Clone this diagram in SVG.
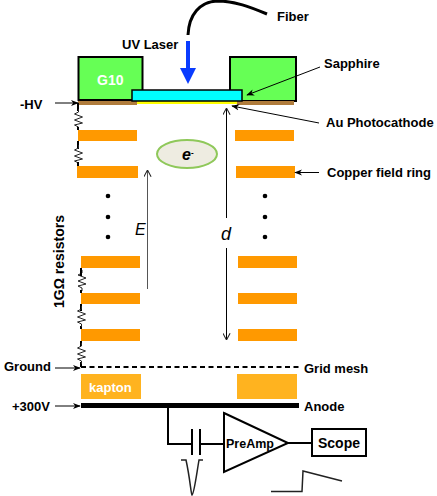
<svg xmlns="http://www.w3.org/2000/svg" width="437" height="496" viewBox="0 0 437 496">
<style>
text{font-family:"Liberation Sans",Arial,sans-serif;font-weight:bold;font-size:13px;fill:#000}
.ring{fill:#ff9900}
.g10{fill:#66ff55;stroke:#000;stroke-width:2}
.kap{fill:#ffb31f}
.res{fill:none;stroke:#222;stroke-width:1}
.wire{fill:none;stroke:#000;stroke-width:2}
.thin{fill:none;stroke:#000;stroke-width:1}
.dot{fill:#000}
</style>
<defs>
<marker id="ah" viewBox="0 0 10 10" refX="9" refY="5" markerWidth="8" markerHeight="8" markerUnits="userSpaceOnUse" orient="auto"><path d="M0 1L10 5L0 9L3 5Z" fill="#000"/></marker>
<marker id="open" viewBox="0 0 10 10" refX="9.500" refY="5" markerWidth="8" markerHeight="8" markerUnits="userSpaceOnUse" orient="auto"><path d="M1 0.500L9.500 5L1 9.500" fill="none" stroke="#222" stroke-width="1.300"/></marker>
<path id="zig" d="M0 0L0 3L-4 5L4 8L-4 11L4 14L-4 16L0 18L0 21" class="res"/>
</defs>
<g id="g10-left"><rect class="g10" x="78.500" y="57" width="64" height="43"/><text x="97" y="85" style="font-size:14px;fill:#fff">G10</text></g>
<g id="g10-right"><rect class="g10" x="230" y="57" width="66" height="44"/></g>
<g id="cathode">
<rect x="78" y="101" width="59" height="4" fill="#b07c3c"/>
<rect x="237" y="101" width="57" height="4" fill="#b07c3c"/>
<rect x="137" y="101" width="100" height="3" fill="#ffff00"/>
</g>
<g id="sapphire"><rect x="132" y="90" width="110" height="11" fill="#00ffff" stroke="#000" stroke-width="1.500"/></g>
<g id="rings">
<rect class="ring" x="78" y="130" width="59" height="11"/>
<rect class="ring" x="77" y="166" width="61" height="12"/>
<rect class="ring" x="235" y="130" width="59" height="11"/>
<rect class="ring" x="236" y="166" width="59" height="12"/>
<rect class="ring" x="81" y="256" width="59" height="12"/>
<rect class="ring" x="81" y="293" width="59" height="11"/>
<rect class="ring" x="81" y="329" width="59" height="12"/>
<rect class="ring" x="238" y="256" width="59" height="12"/>
<rect class="ring" x="238" y="293" width="59" height="11"/>
<rect class="ring" x="238" y="329" width="59" height="12"/>
</g>
<g id="dots">
<circle class="dot" cx="108" cy="196" r="2.300"/><circle class="dot" cx="108" cy="217" r="2.300"/><circle class="dot" cx="108" cy="237" r="2.300"/>
<circle class="dot" cx="265" cy="196" r="2.300"/><circle class="dot" cx="265" cy="217" r="2.300"/><circle class="dot" cx="265" cy="237" r="2.300"/>
</g>
<g id="electron"><ellipse cx="187" cy="154" rx="30" ry="14" fill="#eeece1" stroke="#8fc85a" stroke-width="2"/><text x="182" y="160" style="font-size:16px;font-style:italic">e<tspan dy="-5" style="font-size:8px">-</tspan></text></g>
<g id="kapton-left"><rect class="kap" x="81" y="374" width="60" height="25"/><text x="89" y="392" style="font-size:13px;fill:#fff">kapton</text></g>
<g id="kapton-right"><rect class="kap" x="237" y="374" width="60" height="25"/></g>
<g id="anode"><rect x="81" y="403" width="218" height="5" fill="#000"/></g>
<g id="preamp"><path d="M224 413L288 443L224 472Z" fill="#fff" stroke="#000" stroke-width="2"/><text x="226" y="448" style="font-size:12.500px">PreAmp</text></g>
<g id="scope"><rect x="312" y="429" width="54" height="27" fill="#fff" stroke="#000" stroke-width="2"/><text x="318" y="448" style="font-size:14px">Scope</text></g>
<g id="connectors">
<path d="M188 35C189 14 200 2 217 1C235 1 250 7 267 14" fill="none" stroke="#000" stroke-width="3"/>
<rect x="186" y="41" width="4" height="29" fill="#0a3cff"/>
<path d="M180 68H196L188 84Z" fill="#0a3cff"/>
<path d="M78 103V111" class="wire"/><use href="#zig" x="78.500" y="109"/><path d="M78 127V130M78 141V149" class="wire"/><use href="#zig" x="78.500" y="145"/><path d="M78 162V166" class="wire"/>
<use href="#zig" transform="translate(82 270)"/><path d="M81 268V276M81 290V293M81 304V311M81 326V329M81 341V346M81 362V367" class="wire"/>
<use href="#zig" x="81.500" y="306"/><use href="#zig" x="81.500" y="343"/>
<path d="M81 367H299" fill="none" stroke="#000" stroke-width="2" stroke-dasharray="5 3.500"/>
<path d="M147.500 289V170" fill="none" stroke="#555" stroke-width="1" marker-end="url(#open)"/>
<path d="M226.500 218V108" class="thin" marker-end="url(#open)"/>
<path d="M226.500 248V340" class="thin" marker-end="url(#open)"/>
<path d="M55 103H78" class="thin" marker-end="url(#ah)"/>
<path d="M55 368H80" class="thin" marker-end="url(#ah)"/>
<path d="M55 406H80" class="thin" marker-end="url(#ah)"/>
<path d="M320 67L247 95" class="thin" marker-end="url(#ah)"/>
<path d="M319 123L232 106" class="thin" marker-end="url(#ah)"/>
<path d="M319 172.500H295" class="thin" marker-end="url(#ah)"/>
<path d="M168 408V444H192M200 444H224M288 443H312" class="wire"/>
<path d="M192 429V455M200 429V455" class="wire"/>
<path d="M181 460H186C190 478 191 494 192 495C194 494 196 478 199 460H203" fill="none" stroke="#222" stroke-width="1.500"/>
<path d="M271 491.500H302L303 471L342 481" fill="none" stroke="#222" stroke-width="1.500"/>
</g>
<g id="labels">
<text x="277" y="21">Fiber</text>
<text x="122" y="49">UV Laser</text>
<text x="324" y="68">Sapphire</text>
<text x="20" y="109">-HV</text>
<text x="326" y="127">Au Photocathode</text>
<text x="327" y="177">Copper field ring</text>
<text x="4" y="371">Ground</text>
<text x="12" y="411">+300V</text>
<text x="304" y="373">Grid mesh</text>
<text x="304" y="411">Anode</text>
<text transform="translate(64 308) rotate(-90)" style="font-size:14px">1GΩ resistors</text>
<text x="135" y="235" style="font-size:16px;font-weight:normal;font-style:italic">E</text>
<text x="221" y="240" style="font-size:18px;font-weight:normal;font-style:italic">d</text>
</g>
</svg>
